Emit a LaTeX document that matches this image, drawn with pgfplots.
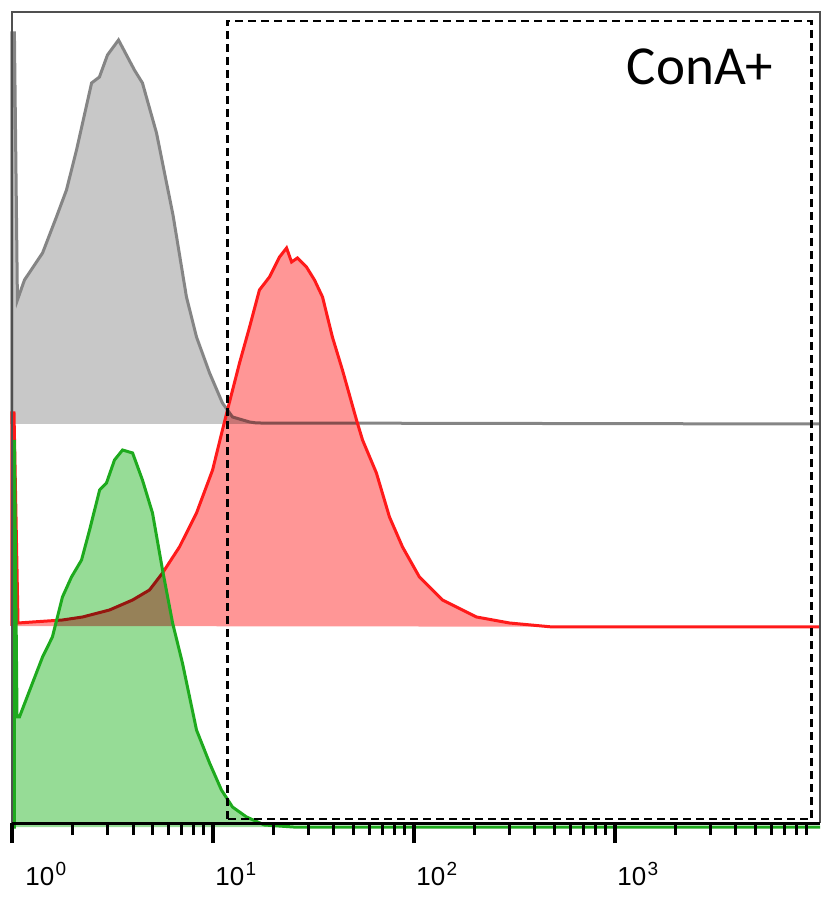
\documentclass[border=0pt]{standalone}
\usepackage{pgfplots}
\pgfplotsset{compat=1.18}
\usepackage{pgfplotstable}
\usepackage{fontspec}
\setmainfont{Liberation Sans}
\newfontfamily\calibri{Carlito}

\definecolor{grayfill}{HTML}{C8C8C8}
\definecolor{grayline}{HTML}{858585}
\definecolor{redfill}{HTML}{FF9696}
\definecolor{redline}{HTML}{FF1A1A}
\definecolor{greenfill}{HTML}{96DC96}
\definecolor{greenline}{HTML}{1EAA1E}
\definecolor{frame}{HTML}{505050}

% x = log10 of intensity, y = histogram height (each curve offset)
\pgfplotstableread{
x y
0.000 399
0.000 790
0.012 790
0.027 523
0.062 543
0.152 570
0.221 606
0.271 633
0.321 673
0.396 740
0.435 746
0.475 768
0.530 783
0.609 753
0.649 740
0.719 690
0.801 608
0.868 526
0.918 486
0.983 450
1.047 420
1.097 406
1.182 401
1.217 400
4.020 399
}\unstained

\pgfplotstableread{
x y
0.000 197
0.000 410
0.010 410
0.030 200
0.102 201
0.251 203
0.351 206
0.485 213
0.600 223
0.684 233
0.749 250
0.833 276
0.918 310
0.998 353
1.047 393
1.072 413
1.132 460
1.182 496
1.231 533
1.281 546
1.331 566
1.366 575
1.391 561
1.420 565
1.465 556
1.505 543
1.545 526
1.594 486
1.644 453
1.714 403
1.744 383
1.813 350
1.878 306
1.943 276
2.027 246
2.142 223
2.311 206
2.475 200
2.689 196
4.020 196
}\conA

\pgfplotstableread{
x y
0.005 -4
0.012 -4
0.012 383
0.025 106
0.037 106
0.102 140
0.152 166
0.201 186
0.251 226
0.296 246
0.346 263
0.386 293
0.436 333
0.470 340
0.510 363
0.550 373
0.600 370
0.649 343
0.699 310
0.749 253
0.799 200
0.848 160
0.918 93
0.983 60
1.042 33
1.097 16
1.167 6
1.256 -2
1.400 -4
4.020 -4
}\control

\newcommand\dec[1]{\fontsize{13}{13}\selectfont 10\kern0.6pt\raisebox{4.8pt}{\fontsize{9.5}{9.5}\selectfont #1}}

\begin{document}
\begin{tikzpicture}
\begin{axis}[
    scale only axis,
    width=404pt, height=405.5pt,
    xmin=0, xmax=4.02, ymin=0, ymax=811,
    axis line style={draw=none},
    ytick=\empty,
    xtick={0,1,2,3},
    xticklabels={\hspace*{5.5pt}\dec{0},\dec{1},\dec{2},\dec{3}},
    minor xtick={0.301,0.477,0.602,0.699,0.778,0.845,0.903,0.954,
                 1.301,1.477,1.602,1.699,1.778,1.845,1.903,1.954,
                 2.301,2.477,2.602,2.699,2.778,2.845,2.903,2.954,
                 3.301,3.477,3.602,3.699,3.778,3.845,3.903,3.954},
    xtick pos=bottom, tick align=outside,
    major tick length=10pt, minor tick length=6pt,
    major tick style={line width=2.4pt, black},
    minor tick style={line width=1.5pt, black},
    xticklabel style={anchor=base west, inner sep=0pt, xshift=1pt, yshift=-21pt},
    axis on top,
    clip=false,
]
\addplot[fill=grayfill, draw=none, blend mode=multiply] table {\unstained};
\addplot[grayline, line width=1.5pt] table {\unstained};
\addplot[fill=redfill, draw=none, blend mode=multiply] table {\conA};
\addplot[redline, line width=1.5pt] table {\conA};
\addplot[fill=greenfill, draw=none, blend mode=multiply] table {\control};
\addplot[greenline, line width=1.5pt] table {\control};

\draw[frame, line width=1.3pt] (rel axis cs:0,0) -- (rel axis cs:0,1) -- (rel axis cs:1,1) -- (rel axis cs:1,0);
\draw[black, line width=1.5pt] (rel axis cs:0,0) -- (rel axis cs:1,0);
\draw[black, line width=1.1pt, dash pattern=on 4pt off 2.5pt] (axis cs:1.072,4) rectangle (axis cs:3.978,802);
\node[anchor=base east, inner sep=0pt, font=\calibri\fontsize{27.5}{27.5}\selectfont] at (axis cs:3.79,738) {ConA+};
\end{axis}
\pgfresetboundingbox
\path[use as bounding box] ([shift={(-6pt,-37.5pt)}]current axis.south west) rectangle ([shift={(1.5pt,6pt)}]current axis.north east);
\end{tikzpicture}
\end{document}
